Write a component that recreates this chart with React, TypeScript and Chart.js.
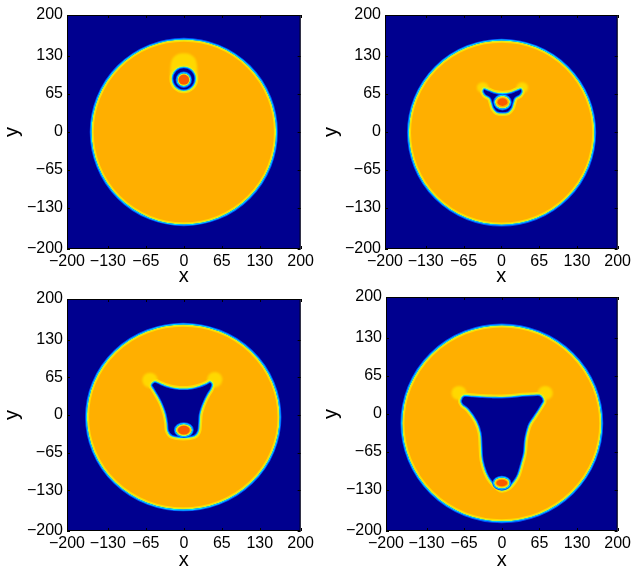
import React, { useEffect, useRef } from 'react';
import { Chart, registerables } from 'chart.js';

Chart.register(...registerables);

// ---------- data ----------
const TICKS = [-200, -130, -65, 0, 65, 130, 200];
const AXIS_MIN = -200;
const AXIS_MAX = 200;

// outer drop boundary [cx, cy, rx, ry]
const OUTER_A = [0, 0, 158, 158];
const OUTER_B = [0.5, -1, 159.5, 157.5];
const OUTER_C = [-1, -3.5, 165, 159.5];
const OUTER_D = [0, -16, 172, 167.5];

// yellow regions
const CAP_A: [number, number][] = [
  [-21, 92], [-23, 108], [-20, 124], [-11, 132.5], [0, 134.5], [11, 132.5], [20, 124], [23, 108], [21, 92], [0, 88],
];
const BLOBS_B = [[-32, 76, 10, 9], [36, 76, 10, 9]];
const BLOBS_C = [[-58, 60, 13, 13], [53, 61, 13, 13]];
const BLOBS_D = [[-74, 36, 13, 12], [75, 36, 13, 12]];

// inner cavity
const CAVITY_A = [0, 91, 21, 21];
const CAVITY_B: [number, number][] = [
  [-33, 69], [-30, 75], [-21, 72], [-10, 68], [2, 66.5], [14, 68], [25, 72], [34, 75], [37, 69],
  [33, 62], [25, 57], [22, 49], [19, 40], [12, 32.5], [2, 31], [-8, 32.5], [-15, 40], [-18, 49], [-21, 57], [-29, 62],
];
const CAVITY_C: [number, number][] = [
  [-57, 52], [-50, 58.5], [-40, 55], [-29, 50.5], [-14, 47], [-1, 46], [13, 47], [27, 50.5], [38, 55], [45, 58.5],
  [50, 53], [48, 45], [42, 35], [36, 23], [31, 10], [28.5, 0], [27.5, -14], [26, -28], [19, -37], [-1, -40],
  [-21, -37], [-28.5, -28], [-30, -14], [-32.5, 0], [-36, 11], [-41, 23], [-47, 34], [-53, 44],
];
const CAVITY_D: [number, number][] = [
  [-72, 23], [-66, 32], [-50, 31.5], [-34, 30.5], [-17, 29.8], [0, 29.6], [17, 30.5], [35, 32.5], [55, 33.5], [67, 33],
  [73.5, 23], [70, 15], [63, 4], [57, -5], [49, -17], [45, -28], [41.5, -44], [39.5, -67], [35, -84], [29, -104],
  [22, -116], [12, -127], [0, -131], [-8, -127], [-19.4, -115.7], [-28, -101], [-34.7, -78.6], [-36.4, -56],
  [-38, -33], [-45, -13], [-59, 7], [-69, 15],
];

// droplet [cx, cy, rx, ry] and its core
const DROP_A = [0, 89.5, 11, 11];
const CORE_A = [0, 89.5, 9, 8.5];
const DROP_B = [2, 51, 13, 11];
const CORE_B = [2, 51, 8.5, 6.5];
const DROP_C = [0, -26, 14, 10.5];
const CORE_C = [0, -26, 10, 7.5];
const DROP_D = [0, -118, 13.5, 9.5];
const CORE_D = [0, -118, 9.5, 5.5];

// ---------- style ----------
const DARK = '#00008F';
const ORANGE = '#FFAF00';
const BAND_YELLOW = '#FFDC00';
const BAND_GREEN = '#B4FF50';
const BAND_CYAN = '#00DCFF';
const BAND_BLUE = '#0050FF';
const BLOB = '#FFD800';
const CORE = '#FA5A00';
const FONT = "'Liberation Sans', Arial, Helvetica, sans-serif";

type Pair = [number, number];
type Shape = number[] | Pair[];

const fmt = (v: number) => (v < 0 ? '\u2212' + Math.abs(v) : String(v));

function isPoly(s: Shape): s is Pair[] {
  return Array.isArray(s[0]);
}

function makePath(chart: any, s: Shape): Path2D {
  const xs = chart.scales.x;
  const ys = chart.scales.y;
  const p = new Path2D();
  if (isPoly(s)) {
    const pts = s.map(([x, y]) => [xs.getPixelForValue(x), ys.getPixelForValue(y)]);
    const n = pts.length;
    p.moveTo(pts[0][0], pts[0][1]);
    for (let i = 0; i < n; i++) {
      const p0 = pts[(i - 1 + n) % n], p1 = pts[i], p2 = pts[(i + 1) % n], p3 = pts[(i + 2) % n];
      p.bezierCurveTo(
        p1[0] + (p2[0] - p0[0]) / 6, p1[1] + (p2[1] - p0[1]) / 6,
        p2[0] - (p3[0] - p1[0]) / 6, p2[1] - (p3[1] - p1[1]) / 6,
        p2[0], p2[1]
      );
    }
    p.closePath();
  } else {
    const [cx, cy, rx, ry] = s as number[];
    const px = xs.getPixelForValue(cx);
    const py = ys.getPixelForValue(cy);
    const prx = Math.abs(xs.getPixelForValue(cx + rx) - px);
    const pry = Math.abs(ys.getPixelForValue(cy + ry) - py);
    p.ellipse(px, py, prx, pry, 0, 0, Math.PI * 2);
  }
  return p;
}

function bands(ctx: CanvasRenderingContext2D, area: any, path: Path2D, highInside: boolean, highW = 2.2) {
  const stroke = (c: string, w: number) => {
    ctx.strokeStyle = c;
    ctx.lineWidth = w * 2;
    ctx.stroke(path);
  };
  const high = () => { stroke(BAND_YELLOW, highW); stroke(BAND_GREEN, 0.8); };
  const low = () => { stroke(BAND_BLUE, 1.8); stroke(BAND_CYAN, 0.9); };
  ctx.save();
  ctx.filter = 'blur(0.5px)';
  ctx.save();
  ctx.clip(path);
  (highInside ? high : low)();
  ctx.restore();
  ctx.save();
  const out = new Path2D();
  out.rect(area.left - 20, area.top - 20, area.width + 40, area.height + 40);
  out.addPath(path);
  ctx.clip(out, 'evenodd');
  (highInside ? low : high)();
  ctx.restore();
  ctx.restore();
}

interface PanelCfg {
  left: number; top: number; width: number; height: number;
  L: number; R: number; T: number; H: number; yPad: number;
  outer: number[]; yellow: Shape[]; cavity: Shape; drop: number[]; core: number[];
}

const PANELS: PanelCfg[] = [
  { left: 0, top: 0, width: 317, height: 288, L: 67, R: 16, T: 15, H: 39, yPad: 0,
    outer: OUTER_A, yellow: [CAP_A], cavity: CAVITY_A, drop: DROP_A, core: CORE_A },
  { left: 317, top: 0, width: 317, height: 288, L: 68, R: 14, T: 15, H: 39, yPad: 2,
    outer: OUTER_B, yellow: BLOBS_B, cavity: CAVITY_B, drop: DROP_B, core: CORE_B },
  { left: 0, top: 282, width: 317, height: 290, L: 67, R: 16, T: 17, H: 41, yPad: 0,
    outer: OUTER_C, yellow: BLOBS_C, cavity: CAVITY_C, drop: DROP_C, core: CORE_C },
  { left: 317, top: 282, width: 317, height: 290, L: 69, R: 14, T: 15, H: 41, yPad: 2,
    outer: OUTER_D, yellow: BLOBS_D, cavity: CAVITY_D, drop: DROP_D, core: CORE_D },
];

function fieldPlugin(cfg: PanelCfg) {
  return {
    id: 'phaseField',
    beforeDatasetsDraw(chart: any) {
      const ctx: CanvasRenderingContext2D = chart.ctx;
      const a = chart.chartArea;
      ctx.save();
      ctx.beginPath();
      ctx.rect(a.left, a.top, a.right - a.left, a.bottom - a.top);
      ctx.clip();
      ctx.fillStyle = DARK;
      ctx.fillRect(a.left, a.top, a.right - a.left, a.bottom - a.top);
      // outer drop
      const outer = makePath(chart, cfg.outer);
      ctx.fillStyle = ORANGE;
      ctx.fill(outer);
      bands(ctx, a, outer, true);
      // yellow regions
      ctx.save();
      ctx.filter = 'blur(1px)';
      ctx.fillStyle = BLOB;
      cfg.yellow.forEach((s) => ctx.fill(makePath(chart, s)));
      ctx.restore();
      // cavity
      const cav = makePath(chart, cfg.cavity);
      ctx.fillStyle = DARK;
      ctx.fill(cav);
      bands(ctx, a, cav, false);
      // droplet
      const drop = makePath(chart, cfg.drop);
      ctx.fillStyle = ORANGE;
      ctx.fill(drop);
      bands(ctx, a, drop, true, 1.4);
      ctx.save();
      ctx.filter = 'blur(0.7px)';
      ctx.fillStyle = CORE;
      ctx.fill(makePath(chart, cfg.core));
      ctx.restore();
      ctx.restore();
    },
    afterDraw(chart: any) {
      const ctx: CanvasRenderingContext2D = chart.ctx;
      const a = chart.chartArea;
      const xs = chart.scales.x;
      const ys = chart.scales.y;
      ctx.save();
      ctx.strokeStyle = '#000';
      ctx.lineWidth = 1;
      ctx.strokeRect(a.left + 0.5, a.top + 0.5, a.right - a.left - 1, a.bottom - a.top - 1);
      ctx.beginPath();
      const len = 3;
      TICKS.forEach((v) => {
        const px = Math.round(xs.getPixelForValue(v)) + 0.5;
        ctx.moveTo(px, a.bottom); ctx.lineTo(px, a.bottom - len);
        ctx.moveTo(px, a.top); ctx.lineTo(px, a.top + len);
        const py = Math.round(ys.getPixelForValue(v)) + 0.5;
        ctx.moveTo(a.left, py); ctx.lineTo(a.left + len, py);
        ctx.moveTo(a.right, py); ctx.lineTo(a.right - len, py);
      });
      ctx.stroke();
      ctx.restore();
    },
  };
}

function Panel({ cfg }: { cfg: PanelCfg }) {
  const ref = useRef<HTMLCanvasElement>(null);
  useEffect(() => {
    const tickFont = { family: FONT, size: 16 };
    const titleFont = { family: FONT, size: 20 };
    const chart = new Chart(ref.current as HTMLCanvasElement, {
      type: 'scatter',
      data: { datasets: [] },
      options: {
        animation: false,
        responsive: false,
        events: [],
        layout: { padding: { left: 0, top: cfg.T, right: cfg.R, bottom: 0 } },
        plugins: { legend: { display: false }, tooltip: { enabled: false } },
        scales: {
          x: {
            type: 'linear', position: 'bottom', min: AXIS_MIN, max: AXIS_MAX,
            afterBuildTicks: (s: any) => { s.ticks = TICKS.map((v) => ({ value: v })); },
            afterFit: (s: any) => { s.height = cfg.H; },
            grid: { display: false, drawTicks: false },
            border: { display: false },
            ticks: { font: tickFont, color: '#000', padding: 3, autoSkip: false, maxRotation: 0, minRotation: 0, callback: (v: any) => fmt(Number(v)) },
            title: { display: true, text: 'x', font: titleFont, color: '#000', padding: 0 },
          },
          y: {
            type: 'linear', position: 'left', min: AXIS_MIN, max: AXIS_MAX,
            afterBuildTicks: (s: any) => { s.ticks = TICKS.map((v) => ({ value: v })); },
            afterFit: (s: any) => { s.width = cfg.L; },
            grid: { display: false, drawTicks: false },
            border: { display: false },
            ticks: { font: tickFont, color: '#000', padding: 4, autoSkip: false, callback: (v: any) => fmt(Number(v)) },
            title: { display: true, text: 'y', font: titleFont, color: '#000', padding: { top: cfg.yPad, bottom: 0 } },
          },
        },
      } as any,
      plugins: [fieldPlugin(cfg)],
    });
    return () => chart.destroy();
  }, []);
  return (
    <canvas
      ref={ref}
      width={cfg.width}
      height={cfg.height}
      style={{ position: 'absolute', left: cfg.left, top: cfg.top, width: cfg.width, height: cfg.height }}
    />
  );
}

export default function App() {
  return (
    <div style={{ position: 'fixed', left: 0, top: 0, width: 634, height: 567, overflow: 'hidden', background: '#fff' }}>
      {PANELS.map((p, i) => (
        <Panel key={i} cfg={p} />
      ))}
    </div>
  );
}
